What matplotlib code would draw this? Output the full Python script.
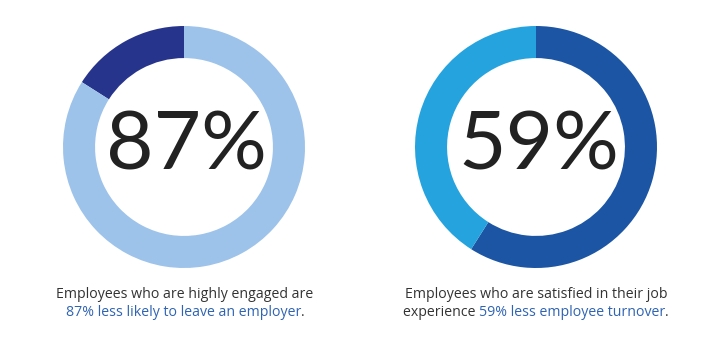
import matplotlib
matplotlib.use("Agg")
import matplotlib.pyplot as plt

# Donut shares (first value is the dark segment starting at 12 o'clock)
left_shares = [16, 84]
left_colors = ["#27348b", "#9dc3ea"]
left_label = "87%"

right_shares = [59, 41]
right_colors = ["#1b55a3", "#25a3de"]
right_label = "59%"

left_caption = ["Employees who are highly engaged are",
                ["", "87% less likely to leave an employer", "."]]
right_caption = ["Employees who are satisfied in their job",
                 ["experience ", "59% less employee turnover", "."]]

GRAY = "#333333"
BLUE = "#2f63b3"
W, H = 720, 360

fig = plt.figure(figsize=(7.2, 3.6), dpi=100)
fig.patch.set_facecolor("white")


def donut(cx, cy, r, shares, colors, label, counterclock):
    ax = fig.add_axes([(cx - r) / W, (H - cy - r) / H, 2 * r / W, 2 * r / H])
    ax.pie(shares, colors=colors, startangle=90, counterclock=counterclock,
           radius=1, wedgeprops=dict(width=0.265, linewidth=0))
    ax.set_xlim(-1, 1)
    ax.set_ylim(-1, 1)
    ax.set_aspect("equal")
    ax.axis("off")
    ax.text(0.02, 0.0, label, ha="center", va="center", fontsize=59,
            family="Lato", color="#222222")


def mixed_line(cx, y, parts, colors, size):
    renderer = fig.canvas.get_renderer()
    widths = []
    for p in parts:
        t = fig.text(0, 0, p.replace(" ", "\u00a0") if p else "", fontsize=size,
                     family="Open Sans")
        widths.append(t.get_window_extent(renderer).width if p else 0)
        t.remove()
    x = cx - sum(widths) / 2
    for p, w, c in zip(parts, widths, colors):
        if p:
            fig.text(x / W, y, p.replace(" ", "\u00a0"), fontsize=size,
                     family="Open Sans", color=c, ha="left", va="center")
        x += w


donut(184, 147, 121, left_shares, left_colors, left_label, True)
donut(536, 147, 121, right_shares, right_colors, right_label, False)

cap_size = 10.2
fig.text(185 / W, (H - 295) / H, left_caption[0], fontsize=cap_size,
         family="Open Sans", color=GRAY, ha="center", va="center")
mixed_line(185, (H - 312) / H, left_caption[1], [GRAY, BLUE, GRAY], cap_size)

fig.text(536 / W, (H - 295) / H, right_caption[0], fontsize=cap_size,
         family="Open Sans", color=GRAY, ha="center", va="center")
mixed_line(536, (H - 312) / H, right_caption[1], [GRAY, BLUE, GRAY], cap_size)

fig.savefig("out.png", dpi=100, facecolor="white")
